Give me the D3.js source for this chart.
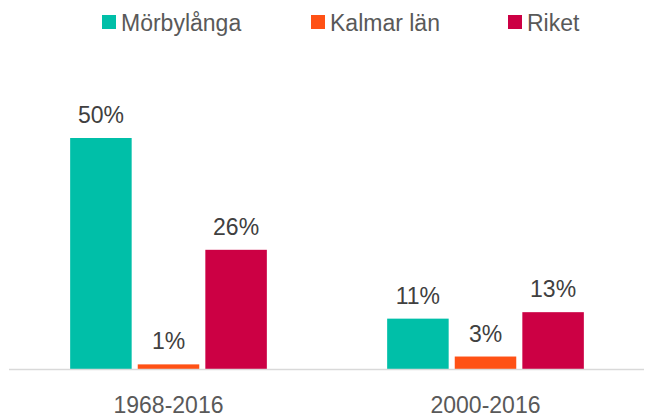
<!DOCTYPE html>
<html>
<head>
<meta charset="utf-8">
<script src="https://cdn.jsdelivr.net/npm/d3@7/dist/d3.min.js"></script>
<style>
  html, body { margin: 0; padding: 0; background: #fff; }
  svg { display: block; font-family: "Liberation Sans", Arial, sans-serif; }
</style>
</head>
<body>
<svg id="chart" width="645" height="418"></svg>
<script>
const categories = ["1968-2016", "2000-2016"];
const seriesNames = ["Mörbylånga", "Kalmar län", "Riket"];
const seriesColors = ["#00BFA8", "#FF5115", "#CC0044"];
const morbylanga = [50, 10.9];
const kalmarLan = [1.0, 2.7];
const riket = [25.8, 12.3];
const morbylangaLabels = ["50%", "11%"];
const kalmarLanLabels = ["1%", "3%"];
const riketLabels = ["26%", "13%"];

const seriesValues = [morbylanga, kalmarLan, riket];
const seriesLabels = [morbylangaLabels, kalmarLanLabels, riketLabels];

const svg = d3.select("#chart");
const textColor = "#595959";
const fontSize = 23;

const x0 = d3.scaleBand().domain(categories).range([10, 644]).padding(0);
const x1 = d3.scaleBand().domain(seriesNames).range([0, x0.bandwidth()])
  .paddingInner(0.09).paddingOuter(0.89);
const y = d3.scaleLinear().domain([0, 50]).range([369, 138]);

const rows = [];
categories.forEach((c, ci) => {
  seriesNames.forEach((s, si) => {
    rows.push({cat: c, series: s, si, value: seriesValues[si][ci], label: seriesLabels[si][ci]});
  });
});

const g = svg.append("g");
g.selectAll("rect.bar").data(rows).join("rect")
  .attr("class", "bar")
  .attr("x", d => x0(d.cat) + x1(d.series))
  .attr("width", x1.bandwidth())
  .attr("y", d => y(d.value))
  .attr("height", d => y(0) - y(d.value))
  .attr("fill", d => seriesColors[d.si]);

g.selectAll("text.val").data(rows).join("text")
  .attr("class", "val")
  .attr("x", d => x0(d.cat) + x1(d.series) + x1.bandwidth() / 2)
  .attr("y", d => y(d.value) - 15)
  .attr("text-anchor", "middle")
  .attr("font-size", fontSize)
  .attr("fill", "#404040")
  .text(d => d.label);

// baseline axis
const xAxis = d3.axisBottom(x0).tickSize(0).tickPadding(29);
const axisG = svg.append("g").attr("transform", `translate(0,${y(0)})`).call(xAxis);
axisG.select(".domain").attr("stroke", "#D9D9D9").attr("stroke-width", 1.5)
  .attr("d", "M9,0.5H644");
axisG.selectAll("text")
  .attr("font-size", fontSize)
  .attr("font-family", "'Liberation Sans', Arial, sans-serif")
  .attr("fill", textColor)
  .attr("dy", null)
  .attr("y", 44);

// legend
const legendX = [102, 311, 508];
const lg = svg.append("g");
seriesNames.forEach((s, i) => {
  lg.append("rect").attr("x", legendX[i]).attr("y", 15).attr("width", 14).attr("height", 14)
    .attr("fill", seriesColors[i]);
  lg.append("text").attr("x", legendX[i] + 19).attr("y", 31)
    .attr("font-size", fontSize).attr("fill", textColor).text(s);
});
</script>
</body>
</html>
